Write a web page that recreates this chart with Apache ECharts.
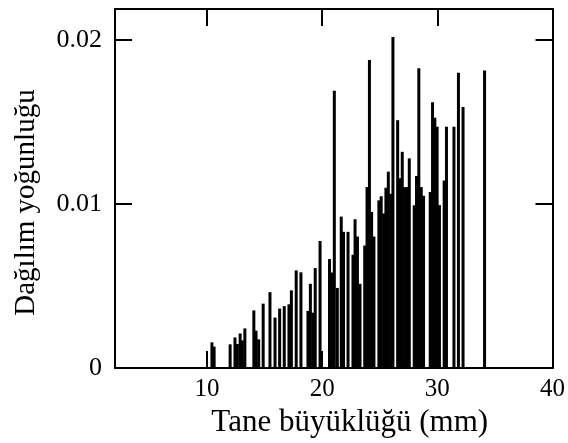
<!DOCTYPE html>
<html>
<head>
<meta charset="utf-8">
<script src="https://cdn.jsdelivr.net/npm/echarts@6/dist/echarts.min.js"></script>
<style>
html, body { margin: 0; padding: 0; background: #fff; }
#density_chart { width: 568px; height: 443px; }
</style>
</head>
<body>
<div id="density_chart"></div>
<script>
// grain size (mm) of each bar and its density
var sizes = [10.42, 10.61, 12.0, 12.42, 12.63, 12.87, 13.06, 13.28, 14.06, 14.25, 14.48, 14.87,
    15.46, 15.9, 16.3, 16.7, 17.11, 17.32, 17.74, 18.15, 18.76, 18.97, 19.19, 19.39, 19.81,
    20.63, 20.85, 21.05, 21.31, 21.65, 21.85, 22.24, 22.67, 22.85, 23.06, 23.28, 23.69, 23.89,
    24.1, 24.29, 24.49, 24.92, 25.12, 25.33, 25.53, 25.74, 25.94, 26.14, 26.55, 26.74, 26.95,
    27.15, 27.35, 27.56, 27.99, 28.19, 28.39, 28.6, 28.8, 29.38, 29.58, 29.78, 29.98, 30.18,
    30.59, 30.79, 31.44, 31.83, 32.23, 34.1];
var densities = [0.00157, 0.00131, 0.00145, 0.00187, 0.00147, 0.00211, 0.00169, 0.00242, 0.00352, 0.00228, 0.00175, 0.00393,
    0.00463, 0.00308, 0.00363, 0.00378, 0.00389, 0.00474, 0.00596, 0.00584, 0.00349, 0.00514, 0.00338, 0.0061, 0.00775,
    0.00665, 0.00583, 0.01692, 0.00489, 0.00924, 0.00831, 0.00831, 0.00691, 0.00908, 0.00802, 0.00514, 0.00747, 0.01104,
    0.01879, 0.00953, 0.00802, 0.01023, 0.01048, 0.00943, 0.011, 0.01198, 0.01063, 0.0202, 0.01512, 0.01158, 0.01319,
    0.01104, 0.01104, 0.01279, 0.00993, 0.01172, 0.01829, 0.01104, 0.01051, 0.01074, 0.01621, 0.01527, 0.01472, 0.00994,
    0.01144, 0.01472, 0.01472, 0.01801, 0.01593, 0.01815];

var xTicks = [10, 20, 30, 40];
var yTicks = [0, 0.01, 0.02];

var font = '"Liberation Serif", "Times New Roman", serif';

var densityChart = echarts.init(document.getElementById('density_chart'));

var barData = [];
for (var i = 0; i < sizes.length; i++) {
    barData.push([sizes[i], densities[i]]);
}

var frameLine = {show: true, onZero: false, lineStyle: {color: '#000', width: 2}};
var tickStyle = {color: '#000', width: 2};

densityOption = {
    animation: false,
    grid: {left: 115, right: 15, top: 9, bottom: 72},
    xAxis: [
        {
            type: 'value',
            min: 2,
            max: 40,
            position: 'bottom',
            axisLine: frameLine,
            axisTick: {show: true, inside: true, length: 17, lineStyle: tickStyle, customValues: xTicks},
            axisLabel: {
                customValues: xTicks, color: '#000', fontFamily: font, fontSize: 25, margin: 9
            },
            splitLine: {show: false},
            name: 'Tane büyüklüğü (mm)',
            nameLocation: 'middle',
            nameGap: 33,
            nameTextStyle: {color: '#000', fontFamily: font, fontSize: 31, padding: [0, 0, 0, 32]}
        },
        {
            type: 'value',
            min: 2,
            max: 40,
            position: 'top',
            axisLine: frameLine,
            axisTick: {show: true, inside: true, length: 17, lineStyle: tickStyle, customValues: xTicks},
            axisLabel: {show: false},
            splitLine: {show: false}
        }
    ],
    yAxis: [
        {
            type: 'value',
            min: 0,
            max: 0.0219,
            position: 'left',
            axisLine: frameLine,
            axisTick: {show: true, inside: true, length: 17, lineStyle: tickStyle, customValues: [0.01, 0.02]},
            axisLabel: {
                customValues: yTicks, color: '#000', fontFamily: font, fontSize: 26, margin: 13,
                formatter: function (v) { return v === 0 ? '0' : v.toFixed(2); }
            },
            splitLine: {show: false},
            name: 'Dağılım yoğunluğu',
            nameLocation: 'middle',
            nameGap: 74,
            nameTextStyle: {color: '#000', fontFamily: font, fontSize: 29, padding: [0, 28, 0, 0]}
        },
        {
            type: 'value',
            min: 0,
            max: 0.0219,
            position: 'right',
            axisLine: frameLine,
            axisTick: {show: true, inside: true, length: 17, lineStyle: tickStyle, customValues: [0.01, 0.02]},
            axisLabel: {show: false},
            splitLine: {show: false}
        }
    ],
    series: [
        {
            name: 'density',
            type: 'bar',
            xAxisIndex: 0,
            yAxisIndex: 0,
            barWidth: 3,
            itemStyle: {color: '#000'},
            data: barData
        }
    ]
};

densityChart.setOption(densityOption);
</script>
</body>
</html>
